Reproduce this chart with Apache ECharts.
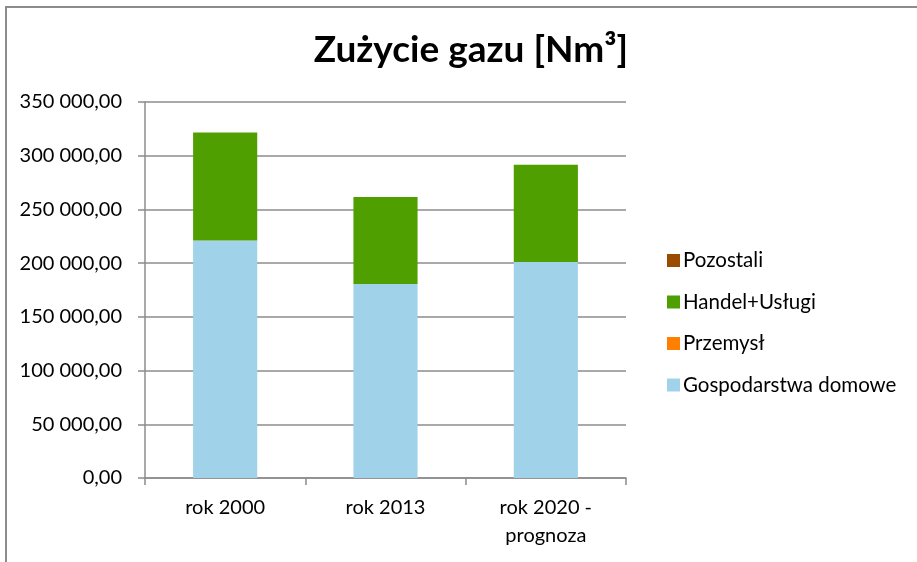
<!DOCTYPE html>
<html>
<head>
<meta charset="utf-8">
<script src="https://cdn.jsdelivr.net/npm/echarts@6/dist/echarts.min.js"></script>
<style>
    html, body { margin: 0; padding: 0; background: #fff; overflow: hidden; }
    #frame { position: absolute; left: 5px; top: 6px; width: 940px; height: 600px; border: 2px solid #8c8c8c; box-sizing: border-box; }
    #main { position: absolute; left: 0; top: 0; width: 917px; height: 562px; }
</style>
</head>
<body>
<div id="frame"></div>
<div id="main"></div>
<script>
    // dane
    var categories = ['rok 2000', 'rok 2013', 'rok 2020 -\nprognoza'];
    var gospodarstwa = [221000, 180500, 201000];
    var przemysl = [0, 0, 0];
    var handel = [100500, 81000, 90500];
    var pozostali = [0, 0, 0];
    var legendOrder = ['Pozostali', 'Handel+Usługi', 'Przemysł', 'Gospodarstwa domowe'];

    var font = 'Lato, "Open Sans", sans-serif';

    function fmt(v) {
        var s = Math.round(v).toString().replace(/\B(?=(\d{3})+(?!\d))/g, ' ');
        return s + ',00';
    }

    var myChart = echarts.init(document.getElementById('main'));
    var option = {
        animation: false,
        title: {
            text: 'Zużycie gazu [Nm³]',
            left: 466,
            textAlign: 'center',
            top: 27,
            textStyle: { fontFamily: font, fontSize: 37, fontWeight: 'bold', color: '#000' }
        },
        legend: {
            data: legendOrder,
            orient: 'vertical',
            left: 662,
            top: 245,
            itemWidth: 13,
            itemHeight: 13,
            itemGap: 20.5,
            icon: 'rect',
            textStyle: { fontFamily: font, fontSize: 20.5, color: '#000', padding: [0, 0, 0, -2] }
        },
        grid: {
            left: 145,
            right: 291,
            top: 102,
            bottom: 84
        },
        xAxis: {
            type: 'category',
            data: categories,
            axisLine: { lineStyle: { color: '#8c8c8c', width: 1.5 } },
            axisTick: { show: true, length: 7, lineStyle: { color: '#8c8c8c', width: 1.5 } },
            axisLabel: { fontFamily: font, fontSize: 20, color: '#000', margin: 16, lineHeight: 28 }
        },
        yAxis: {
            type: 'value',
            min: 0,
            max: 350000,
            interval: 50000,
            axisLine: { show: true, lineStyle: { color: '#8c8c8c', width: 1.5 } },
            axisTick: { show: true, length: 7, lineStyle: { color: '#8c8c8c', width: 1.5 } },
            splitLine: { lineStyle: { color: '#8c8c8c', width: 1.5 } },
            axisLabel: { fontFamily: font, fontSize: 20, color: '#000', margin: 23, formatter: fmt }
        },
        series: [
            { name: 'Gospodarstwa domowe', type: 'bar', stack: 's', barWidth: '40%', data: gospodarstwa, itemStyle: { color: '#a0d2ea' } },
            { name: 'Przemysł', type: 'bar', stack: 's', data: przemysl, itemStyle: { color: '#ff7f00' } },
            { name: 'Handel+Usługi', type: 'bar', stack: 's', data: handel, itemStyle: { color: '#4f9f00' } },
            { name: 'Pozostali', type: 'bar', stack: 's', data: pozostali, itemStyle: { color: '#994c00' } }
        ]
    };
    myChart.setOption(option);
</script>
</body>
</html>
